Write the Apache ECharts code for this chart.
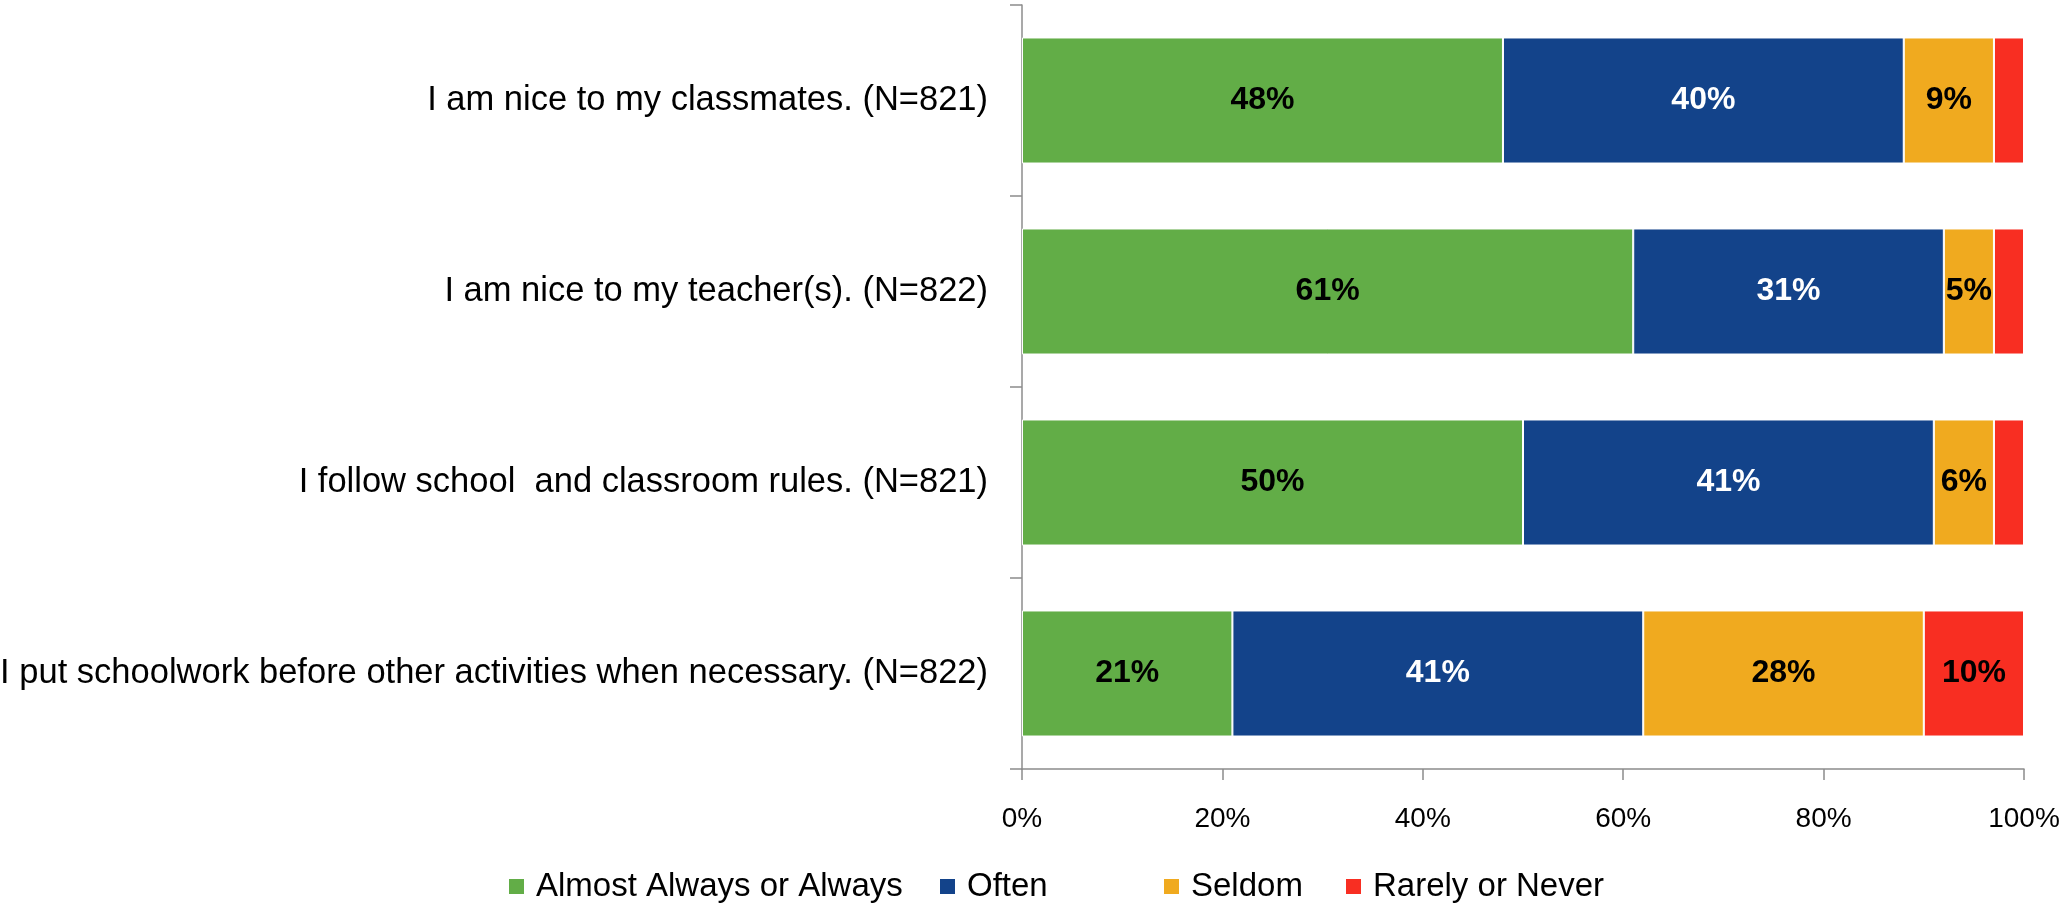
<!DOCTYPE html>
<html>
<head>
<meta charset="utf-8">
<title>Student behaviour survey</title>
<script src="https://cdn.jsdelivr.net/npm/echarts@6/dist/echarts.min.js"></script>
<style>
  html, body { margin: 0; padding: 0; background: #fff; }
  #chart { width: 2066px; height: 906px; }
</style>
</head>
<body>
<div id="chart"></div>
<script>
// survey statements (top to bottom)
const categories = [
  'I am nice to my classmates. (N=821)',
  'I am nice to my teacher(s). (N=822)',
  'I follow school  and classroom rules. (N=821)',
  'I put schoolwork before other activities when necessary. (N=822)'
]
const seriesNames = ['Almost Always or Always', 'Often', 'Seldom', 'Rarely or Never']
// percentages per answer
const almostAlways = [48, 61, 50, 21]
const often = [40, 31, 41, 41]
const seldom = [9, 5, 6, 28]
const rarely = [3, 3, 3, 10]
const xTicks = [0, 20, 40, 60, 80, 100]

const colors = ['#62ad47', '#13438a', '#f0aa1f', '#f82e22']
const labelColors = ['#000', '#fff', '#000', '#000']
const legendLeft = [507, 938, 1162, 1344] // excel spreads the legend entries out
const FONT = 'Liberation Sans'

const chart = echarts.init(document.getElementById('chart'))

const seriesData = [almostAlways, often, seldom, rarely]
const series = seriesData.map((data, i) => ({
  name: seriesNames[i],
  type: 'bar',
  stack: 'total',
  barCategoryGap: '34%',
  data: data,
  itemStyle: { color: colors[i], borderColor: '#fff', borderWidth: 1 },
  label: {
    show: true,
    position: 'inside',
    color: labelColors[i],
    fontFamily: FONT,
    fontWeight: 'bold',
    fontSize: 32,
    // the tiny red slices are left without a label
    formatter: p => (p.value < 4 ? '' : p.value + '%')
  }
}))

// one legend per entry so each can sit where the original has it
const legends = seriesNames.map((name, i) => ({
  top: 870,
  left: legendLeft[i],
  padding: 0,
  icon: 'rect',
  itemWidth: 17,
  itemHeight: 17,
  textStyle: { fontFamily: FONT, fontSize: 33, color: '#000', padding: [0, 0, 0, 6] },
  data: [name]
}))

const option = {
  animation: false,
  color: colors,
  textStyle: { fontFamily: FONT },
  grid: { left: 1022, right: 42, top: 5, bottom: 137, containLabel: false, outerBoundsMode: 'none' },
  legend: legends,
  xAxis: {
    type: 'value',
    min: xTicks[0],
    max: xTicks[xTicks.length - 1],
    interval: 20,
    splitLine: { show: false },
    axisLine: { show: true, lineStyle: { color: '#8c8c8c', width: 1.5 } },
    axisTick: { show: true, length: 11, lineStyle: { color: '#8c8c8c', width: 1.5 } },
    axisLabel: { formatter: '{value}%', fontSize: 28, color: '#000', margin: 36, fontFamily: FONT }
  },
  yAxis: {
    type: 'category',
    inverse: true,
    data: categories,
    axisLine: { show: true, lineStyle: { color: '#8c8c8c', width: 1.5 } },
    axisTick: { show: true, length: 12, lineStyle: { color: '#8c8c8c', width: 1.5 } },
    axisLabel: { fontSize: 34.5, color: '#000', margin: 34, fontFamily: FONT }
  },
  series: series
}

chart.setOption(option)
</script>
</body>
</html>
